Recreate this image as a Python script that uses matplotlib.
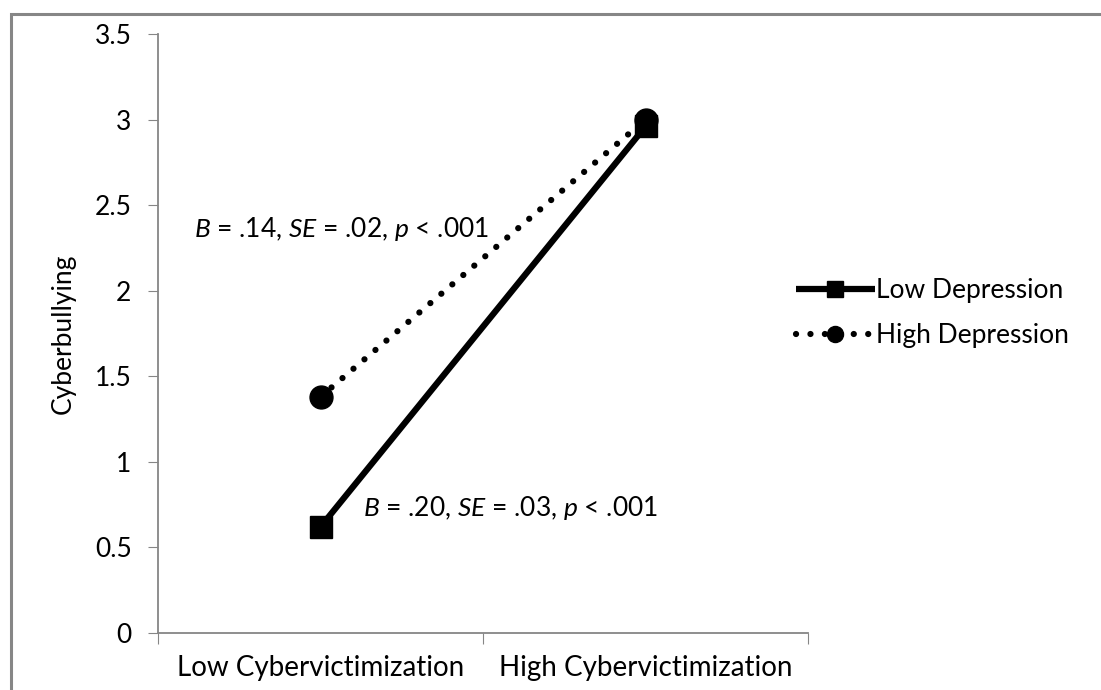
import matplotlib.pyplot as plt
from matplotlib.patches import Rectangle

# data
categories = ["Low Cybervictimization", "High Cybervictimization"]
low_dep = [0.62, 2.96]
high_dep = [1.38, 3.00]
series_names = ["Low Depression", "High Depression"]
yticks = [0, 0.5, 1, 1.5, 2, 2.5, 3, 3.5]
notes = [r"$B$ = .14, $SE$ = .02, $p$ < .001", r"$B$ = .20, $SE$ = .03, $p$ < .001"]

plt.rcParams['font.family'] = ['Lato', 'DejaVu Sans']
plt.rcParams['mathtext.fontset'] = 'custom'
plt.rcParams['mathtext.it'] = 'Lato:italic'
plt.rcParams['mathtext.rm'] = 'Lato'

fs = 19
fig = plt.figure(figsize=(11.01, 6.90), dpi=100)
W, H = 1101, 690

# gray outer frame (cut off at right / bottom like the original)
fig.patches.append(Rectangle((11 / W, -0.05), 1.1, (690 - 14) / H + 0.05,
                             transform=fig.transFigure, fill=False,
                             edgecolor='#868686', linewidth=2.2))

ax = fig.add_axes([158 / W, 1 - 633 / H, (808 - 158) / W, (633 - 34) / H])
x = [1, 2]
ax.plot(x, low_dep, color='black', linewidth=4.5, marker='s', markersize=16.5,
        label=series_names[0], solid_capstyle='butt')
ax.plot(x, high_dep, color='black', linewidth=4.5, linestyle=(0, (0.01, 2.3)),
        dash_capstyle='round', marker='o', markersize=16.5, label=series_names[1])

ax.set_xlim(0.5, 2.5)
ax.set_ylim(0, 3.5)
ax.set_yticks(yticks)
ax.set_yticklabels([f"{v:g}" for v in yticks], fontsize=fs)
ax.set_xticks([0.5, 1.5, 2.5], minor=False)
ax.set_xticklabels([])
ax.set_xticks(x, minor=True)
ax.set_xticklabels(categories, minor=True, fontsize=fs + 1)
ax.tick_params(axis='x', which='minor', length=0, pad=16)
ax.tick_params(axis='x', which='major', length=8, direction='out', color='#868686')
ax.tick_params(axis='y', length=7, direction='out', color='#868686', pad=12)
for s in ['top', 'right']:
    ax.spines[s].set_visible(False)
for s in ['left', 'bottom']:
    ax.spines[s].set_color('#868686')
    ax.spines[s].set_linewidth(1.3)
ax.set_ylabel("Cyberbullying", fontsize=fs, labelpad=14)

ax.text(0.61, 2.36, notes[0], fontsize=fs, va='center', ha='left')
ax.text(1.13, 0.73, notes[1], fontsize=fs, va='center', ha='left')

leg = fig.legend(loc='center left', bbox_to_anchor=(772 / W, 1 - 313 / H),
                 frameon=False, fontsize=fs, handlelength=3.0,
                 handletextpad=0.05, labelspacing=0.75, markerscale=0.7)

fig.savefig("out.png", dpi=100)
